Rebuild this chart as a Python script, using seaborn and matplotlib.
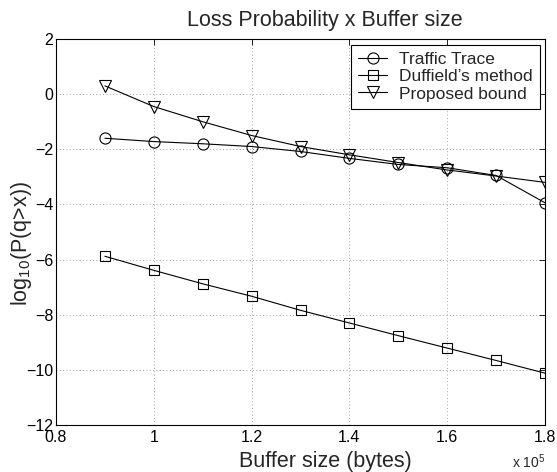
import matplotlib
matplotlib.use("Agg")
import matplotlib.pyplot as plt
import seaborn as sns
import pandas as pd

buffer_size = [0.9, 1.0, 1.1, 1.2, 1.3, 1.4, 1.5, 1.6, 1.7, 1.8]
traffic_trace = [-1.60, -1.72, -1.80, -1.90, -2.08, -2.33, -2.55, -2.67, -2.95, -3.94]
duffield = [-5.88, -6.39, -6.88, -7.33, -7.84, -8.30, -8.76, -9.21, -9.66, -10.12]
proposed = [0.30, -0.45, -1.00, -1.50, -1.90, -2.20, -2.48, -2.75, -2.97, -3.20]
series_names = ["Traffic Trace", "Duffield\u2019s method", "Proposed bound"]
x_ticks = [0.8, 1.0, 1.2, 1.4, 1.6, 1.8]
x_ticklabels = ["0.8", "1", "1.2", "1.4", "1.6", "1.8"]
y_ticks = [-12, -10, -8, -6, -4, -2, 0, 2]

sns.set_style("white")
plt.rcParams["font.family"] = ["Liberation Sans", "DejaVu Sans"]
plt.rcParams["mathtext.fontset"] = "custom"
plt.rcParams["mathtext.rm"] = "Liberation Sans"
plt.rcParams["mathtext.it"] = "Liberation Sans"

fig = plt.figure(figsize=(5.57, 4.72), dpi=100)
# axes: x 56..545 px, y 39..425 px
ax = fig.add_axes([56 / 557, 1 - 425 / 472, 489 / 557, 386 / 472])

df = pd.DataFrame({
    "x": buffer_size * 3,
    "y": traffic_trace + duffield + proposed,
    "series": [series_names[0]] * 10 + [series_names[1]] * 10 + [series_names[2]] * 10,
})

markers = ["o", "s", "v"]
msizes = [8, 7, 8.5]
for name, m, ms in zip(series_names, markers, msizes):
    sub = df[df["series"] == name]
    sns.lineplot(data=sub, x="x", y="y", ax=ax, color="black", linewidth=0.8,
                 marker=m, markersize=ms, markerfacecolor="none",
                 markeredgecolor="black", markeredgewidth=0.8, label=name)

ax.set_xlim(0.8, 1.8)
ax.set_ylim(-12, 2)
ax.set_xticks(x_ticks)
ax.set_xticklabels(x_ticklabels)
ax.set_yticks(y_ticks)
ax.set_yticklabels([f"\u2212{abs(v)}" if v < 0 else str(v) for v in y_ticks])
ax.tick_params(direction="in", length=4, width=0.6, labelsize=11.5, top=True, right=True,
               colors="black")
ax.tick_params(axis="x", pad=3.5)
ax.tick_params(axis="y", pad=2)
ax.grid(True, linestyle=(0, (1, 3)), color="#888888", linewidth=0.6)
for s in ax.spines.values():
    s.set_color("black")
    s.set_linewidth(0.8)

ax.set_title("Loss Probability x Buffer size", fontsize=15.5, x=0.55, y=1.034, pad=0)
ax.set_xlabel("Buffer size (bytes)", fontsize=15.5)
ax.xaxis.set_label_coords(0.55, -0.068)
ax.set_ylabel(r"log$_{10}$(P(q>x))", fontsize=15.5)
ax.yaxis.set_label_coords(-0.044, 0.47)
ax.text(1.0, -0.072, r"x 10$^{5}$", transform=ax.transAxes, ha="right", va="top", fontsize=10)

leg = ax.legend(loc="upper right", bbox_to_anchor=(484 / 489, 1 - 6 / 386), borderaxespad=0,
                fontsize=12.5, frameon=True, fancybox=False, edgecolor="black", framealpha=1,
                handlelength=1.7, labelspacing=0.12, borderpad=0.4, handletextpad=0.7)
leg.get_frame().set_linewidth(0.8)

fig.savefig("out.png", dpi=100)
